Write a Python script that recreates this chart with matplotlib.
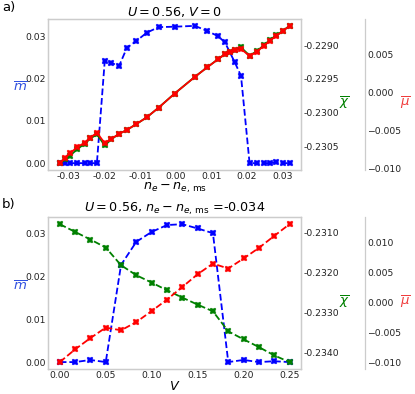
import matplotlib
matplotlib.use('Agg')
import matplotlib.pyplot as plt
from matplotlib.ticker import FormatStrFormatter, MultipleLocator

# --- panel a: sweep in n_e - n_e,ms at U = 0.56, V = 0 ---
dn_a = [-0.0325, -0.0311, -0.0296, -0.0276, -0.0255, -0.0239, -0.0221, -0.0199,
        -0.0181, -0.0159, -0.0137, -0.0111, -0.0081, -0.0048, -0.0003, 0.0054,
        0.0088, 0.0118, 0.0138, 0.0151, 0.0165, 0.0183, 0.0207, 0.0227, 0.0247,
        0.0263, 0.0282, 0.0301, 0.0319]
# m has no point at 0.0151
dn_a_m = [x for i, x in enumerate(dn_a) if i != 19]
m_a = [0, 0, 0, 0, 0, 0, 0, 0.0241, 0.0237, 0.0229, 0.0272, 0.0288, 0.0308,
       0.0321, 0.0322, 0.0324, 0.0312, 0.0300, 0.0285, 0.0239, 0.0206,
       0, 0, 0, 0, 0.0002, 0, 0]
chi_a = [-0.230746, -0.230690, -0.230634, -0.230540, -0.230457, -0.230381,
         -0.230322, -0.230484, -0.230395, -0.230314, -0.230255, -0.230171,
         -0.230068, -0.229926, -0.229717, -0.229469, -0.229330, -0.229212,
         -0.229134, -0.229105, -0.229068, -0.229035, -0.229156, -0.229093,
         -0.229004, -0.228932, -0.228858, -0.228788, -0.228717]
mu_a = [-0.00926, -0.00861, -0.00796, -0.00717, -0.00657, -0.00592, -0.00527,
        -0.00665, -0.00609, -0.00544, -0.00492, -0.00417, -0.00326, -0.00201,
        -0.00016, 0.00203, 0.00326, 0.00430, 0.00500, 0.00522, 0.00552,
        0.00569, 0.00473, 0.00530, 0.00608, 0.00673, 0.00738, 0.00803, 0.00869]

# --- panel b: sweep in V at U = 0.56, n_e - n_e,ms = -0.034 ---
V_b = [k / 60 for k in range(16)]
m_b = [0, 0, 0.0005, 0, 0.0227, 0.0281, 0.0304, 0.0320, 0.0322, 0.0312, 0.0301,
       0, 0.0005, 0, 0.0002, 0]
chi_b = [-0.230793, -0.230985, -0.231175, -0.231374, -0.231815, -0.232065,
         -0.232247, -0.232439, -0.232621, -0.232796, -0.232963, -0.233461,
         -0.233661, -0.233853, -0.234060, -0.234227]
mu_b = [-0.00987, -0.00775, -0.00587, -0.00413, -0.00458, -0.00320, -0.00137,
        0.00053, 0.00263, 0.00475, 0.00653, 0.00570, 0.00737, 0.00913,
        0.01113, 0.01308]

plt.rcParams['font.family'] = 'DejaVu Sans'
plt.rcParams['mathtext.fontset'] = 'dejavusans'

fig = plt.figure(figsize=(4.15, 3.94), dpi=100)
spine_col = '#cccccc'
mk = dict(marker='X', ms=5, mew=0.3, lw=1.3)


def panel(rect, x, xm, m, chi, mu, ls_rest, title, xlabel, xstep, chistep):
    ax = fig.add_axes(rect)
    ax2 = ax.twinx()
    ax3 = ax.twinx()
    ax3.spines['right'].set_position(('axes', 1.253))
    for a in (ax, ax2, ax3):
        for s in a.spines.values():
            s.set_color(spine_col)
            s.set_linewidth(0.9)
        a.tick_params(length=0, pad=1.5, labelsize=6.7, colors='#222222')
    for s in ('top', 'left', 'bottom'):
        ax3.spines[s].set_visible(False)

    ax.plot(xm, m, color='blue', ls='--', **mk)
    ax2.plot(x, chi, color='green', ls=ls_rest, **mk)
    ax3.plot(x, mu, color='red', ls=ls_rest, **mk)

    ax.xaxis.set_major_locator(MultipleLocator(xstep))
    ax.yaxis.set_major_locator(MultipleLocator(0.01))
    ax2.yaxis.set_major_locator(MultipleLocator(chistep))
    ax3.yaxis.set_major_locator(MultipleLocator(0.005))
    ax.xaxis.set_major_formatter(FormatStrFormatter('%.2f'))
    ax.yaxis.set_major_formatter(FormatStrFormatter('%.2f'))
    ax2.yaxis.set_major_formatter(FormatStrFormatter('%.4f'))
    ax3.yaxis.set_major_formatter(
        plt.FuncFormatter(lambda v, p: f'{v:.3f}'.replace('-', '\u2212')))

    ax.set_ylabel(r'$\overline{m}$', color='#3050e0', rotation=0, fontsize=9.5)
    ax2.set_ylabel(r'$\overline{\chi}$', color='green', rotation=0, fontsize=9.5)
    ax3.set_ylabel(r'$\overline{\mu}$', color='#f03c3c', rotation=0,
                   fontsize=9.5, labelpad=3)
    ax.set_xlabel(xlabel, fontsize=9.2, labelpad=0)
    ax.set_title(title, fontsize=9.2, pad=2.5)
    return ax


panel([0.1164, 0.5685, 0.6089, 0.3833], dn_a, dn_a_m, m_a, chi_a, mu_a, '-',
      r'$U = 0.56$, $V = 0$', r'$n_e - n_{e,\,\mathrm{ms}}$', 0.01, 0.0005)
panel([0.1164, 0.0635, 0.6089, 0.3850], V_b, V_b, m_b, chi_b, mu_b, '--',
      r'$U = 0.56$, $n_e - n_{e,\,\mathrm{ms}}$ =-0.034', r'$V$', 0.05, 0.001)

fig.text(0.005, 0.98, 'a)', fontsize=9.5, va='center')
fig.text(0.005, 0.48, 'b)', fontsize=9.5, va='center')

fig.savefig('out.png', dpi=100)
